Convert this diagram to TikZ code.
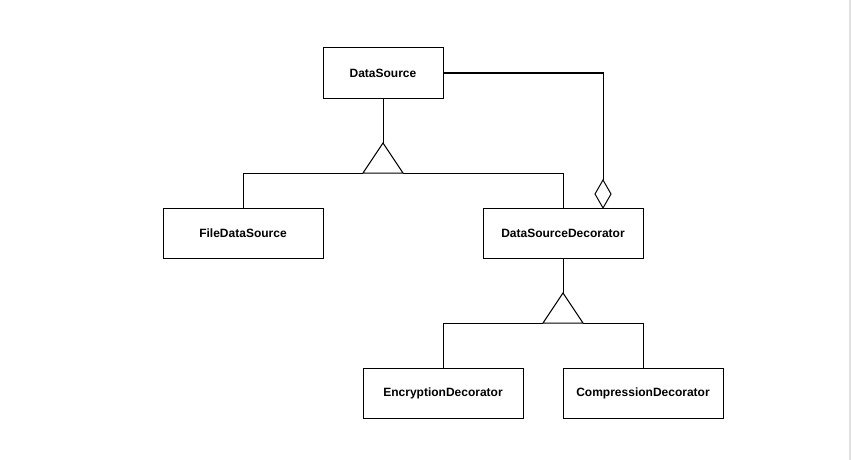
\documentclass[tikz,border=0pt]{standalone}
\usepackage{fontspec}
\setmainfont{Liberation Sans}
\begin{document}
\begin{tikzpicture}[x=1pt,y=-1pt,line width=1pt,
  cls/.style={draw,rectangle,minimum width=160pt,minimum height=50pt,inner sep=0pt,
    font=\fontsize{12}{14}\selectfont\bfseries},
  edge/.style={draw,line width=1pt},
  ]
\useasboundingbox (0,0) rectangle (851,460);
\draw[black!12,line width=1.5pt] (850,0) -- (850,460);

\node[cls,minimum width=120pt] (ds) at (383,73) {DataSource};
\node[cls] (fds) at (243,233) {FileDataSource};
\node[cls] (dsd) at (563,233) {DataSourceDecorator};
\node[cls] (enc) at (443,393) {EncryptionDecorator};
\node[cls] (comp) at (643,393) {CompressionDecorator};

% generalization 1
\coordinate (g1) at (383,143);
\coordinate (g1l) at (363,173);
\coordinate (g1r) at (403,173);
\draw[edge] (ds.south) -- (g1);
\draw[edge] (g1) -- (g1l) -- (g1r) -- cycle;
\draw[edge] (fds.north) |- (g1l);
\draw[edge] (dsd.north) |- (g1r);

% generalization 2
\coordinate (g2) at (563,293);
\coordinate (g2l) at (543,323);
\coordinate (g2r) at (583,323);
\draw[edge] (dsd.south) -- (g2);
\draw[edge] (g2) -- (g2l) -- (g2r) -- cycle;
\draw[edge] (enc.north) |- (g2l);
\draw[edge] (comp.north) |- (g2r);

% aggregation
\coordinate (dtip) at (603,208);
\coordinate (dtop) at (603,180);
\draw[edge] (ds.east) -| (dtop);
\draw[edge,line join=miter] (dtip) -- (595,194) -- (dtop) -- (611,194) -- cycle;
\end{tikzpicture}
\end{document}
